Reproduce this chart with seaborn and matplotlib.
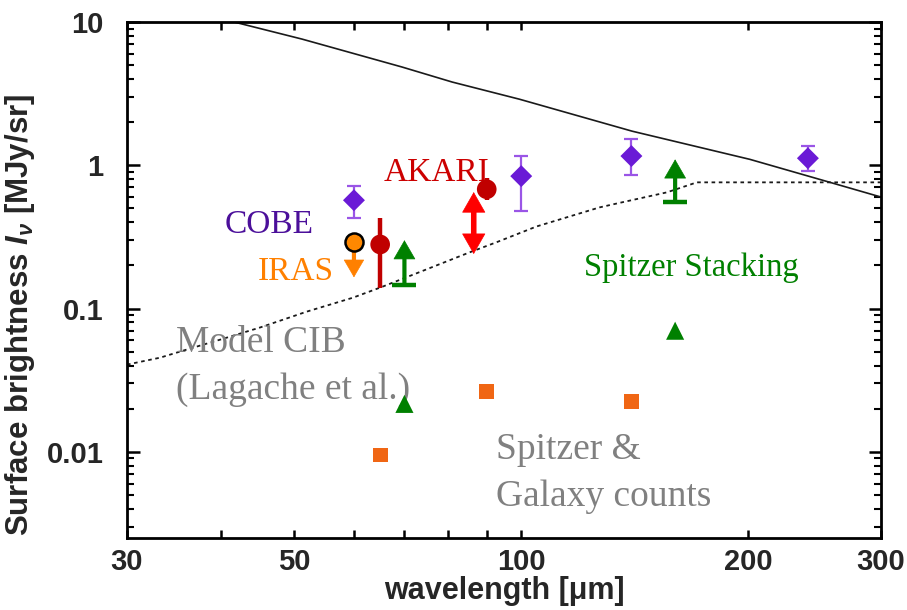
import numpy as np
import pandas as pd
import matplotlib
matplotlib.use("Agg")
import matplotlib.pyplot as plt
from matplotlib.ticker import FixedLocator, NullFormatter, LogLocator
import seaborn as sns

# ---- data -------------------------------------------------------------
# foreground (solid line)
fg_wave = [41.0, 51.2, 69.5, 81.0, 99.5, 140.3, 201.0, 259.0, 300.0]
fg_val = [10.2, 7.6, 4.85, 3.81, 2.89, 1.73, 1.10, 0.75, 0.60]

# model CIB, Lagache et al. (dotted line)
cib_wave = [30.0, 33.2, 36.0, 39.9, 45.0, 52.0, 59.8, 65.0, 73.2, 85.3,
            92.7, 104.8, 127.0, 136.0, 156.0, 171.0, 300.0]
cib_val = [0.0406, 0.0454, 0.0517, 0.0607, 0.0736, 0.0953, 0.119, 0.140,
           0.179, 0.246, 0.290, 0.374, 0.508, 0.551, 0.647, 0.760, 0.760]

# COBE
cobe_wave = [60.0, 100.0, 140.0, 240.0]
cobe_val = [0.57, 0.84, 1.16, 1.12]
cobe_lo = [0.43, 0.48, 0.86, 0.91]
cobe_hi = [0.72, 1.16, 1.52, 1.36]

# IRAS (upper limit)
iras_wave = [60.0]
iras_val = [0.29]
iras_tip = [0.165]

# AKARI
akari_wave = [65.0, 90.0]
akari_val = [0.28, 0.68]
akari_lo = [0.14, 0.57]
akari_hi = [0.43, 0.81]
akari_range_wave = [86.5]
akari_range_lo = [0.24]
akari_range_hi = [0.65]

# Spitzer stacking (lower limits)
stack_wave = [70.0, 160.0]
stack_base = [0.147, 0.55]
stack_tip = [0.30, 1.10]

# Spitzer galaxy counts
counts_wave = [70.0, 160.0]
counts_val = [0.0216, 0.070]

# galaxy counts (squares)
gc_wave = [65.0, 90.0, 140.0]
gc_val = [0.0095, 0.0263, 0.0224]

x_ticks = [30, 50, 100, 200, 300]
x_minor = [40, 60, 70, 80, 90]
y_ticks = [0.01, 0.1, 1, 10]
y_ticklabels = ["0.01", "0.1", "1", "10"]

# ---- style ------------------------------------------------------------
sns.set_theme(style="ticks")
plt.rcParams["font.family"] = ["Liberation Sans", "DejaVu Sans"]
plt.rcParams["mathtext.fontset"] = "custom"
plt.rcParams["mathtext.it"] = "Liberation Sans:italic:bold"
plt.rcParams["mathtext.rm"] = "Liberation Sans:bold"
plt.rcParams["mathtext.bf"] = "Liberation Sans:bold"

fig = plt.figure(figsize=(9.07, 6.10), dpi=100)
ax = fig.add_axes([0.140, 0.118, 0.8313, 0.8459])
ax.set_xscale("log")
ax.set_yscale("log")
ax.set_xlim(30, 300)
ax.set_ylim(0.0025, 10)


def arrow(x, start, end, color, shaft_lw, head_len, head_w, both=False):
    """Thick-shafted arrow from start to end (data y-values, fixed x).

    head_len and head_w (full width) are given in points.
    """
    style = "<|-|>" if both else "-|>"
    ax.annotate("", xy=(x, end), xytext=(x, start),
                arrowprops=dict(arrowstyle="-", color=color, lw=shaft_lw,
                                shrinkA=(head_len - 2) if both else 0,
                                shrinkB=head_len - 2, capstyle="butt"),
                zorder=4)
    ax.annotate("", xy=(x, end), xytext=(x, start),
                arrowprops=dict(arrowstyle=f"{style},head_length={head_len / 10},"
                                           f"head_width={head_w / 20}",
                                color=color, lw=0.5, mutation_scale=10,
                                shrinkA=0, shrinkB=0),
                zorder=4)


# lines
sns.lineplot(x=fg_wave, y=fg_val, ax=ax, color="#1a1a1a", lw=1.2,
             estimator=None, sort=False)
sns.lineplot(x=cib_wave, y=cib_val, ax=ax, color="#1a1a1a", lw=1.3,
             estimator=None, sort=False, linestyle=(0, (2, 2)))

# COBE
cobe_v = np.array(cobe_val)
ax.errorbar(cobe_wave, cobe_val,
            yerr=[cobe_v - np.array(cobe_lo), np.array(cobe_hi) - cobe_v],
            fmt="none", ecolor="#9a55e6", elinewidth=1.6, capsize=5,
            capthick=1.6, zorder=3)
sns.scatterplot(x=cobe_wave, y=cobe_val, ax=ax, marker="D", s=125,
                color="#6a1ad6", edgecolor="none", zorder=4)

# IRAS upper limit
for w, v, t in zip(iras_wave, iras_val, iras_tip):
    arrow(w, v, t, "#ff8000", 3.0, 12, 14)
ax.plot(iras_wave, iras_val, marker="o", ms=13, mfc="#ff8800",
        mec="black", mew=1.8, ls="none", zorder=5)

# AKARI
ak_v = np.array(akari_val)
ax.errorbar(akari_wave, akari_val,
            yerr=[ak_v - np.array(akari_lo), np.array(akari_hi) - ak_v],
            fmt="none", ecolor="#c00000", elinewidth=3.2, capsize=0, zorder=3)
sns.scatterplot(x=akari_wave, y=akari_val, ax=ax, marker="o", s=200,
                color="#c00000", edgecolor="none", zorder=4)
for w, lo, hi in zip(akari_range_wave, akari_range_lo, akari_range_hi):
    arrow(w, lo, hi, "#ff0000", 4.0, 14, 16, both=True)

# Spitzer stacking lower limits
for w, b, t in zip(stack_wave, stack_base, stack_tip):
    arrow(w, b, t, "#008000", 3.0, 13, 15)
ax.plot(stack_wave, stack_base, marker="_", ms=17, mew=3.2,
        color="#008000", ls="none", zorder=4)

# Spitzer counts and galaxy counts
sns.scatterplot(x=counts_wave, y=counts_val, ax=ax, marker="^", s=170,
                color="#008000", edgecolor="none", zorder=4)
sns.scatterplot(x=gc_wave, y=gc_val, ax=ax, marker="s", s=115,
                color="#f06614", edgecolor="none", zorder=4)

# labels
serif = ["Liberation Serif", "DejaVu Serif"]
ax.text(40.4, 0.387, "COBE", color="#4b0f9a", fontsize=24, family=serif,
        va="center")
ax.text(44.7, 0.1815, "IRAS", color="#ff8000", fontsize=24, family=serif,
        va="center")
ax.text(65.6, 0.89, "AKARI", color="#cc0000", fontsize=24, family=serif,
        va="center")
ax.text(121.3, 0.1935, "Spitzer Stacking", color="#008000", fontsize=23.5,
        family=serif, va="center")
ax.text(34.8, 0.0578, "Model CIB", color="#808080", fontsize=27,
        family=serif, va="center")
ax.text(34.8, 0.0271, "(Lagache et al.)", color="#808080", fontsize=27,
        family=serif, va="center")
ax.text(92.7, 0.0103, "Spitzer &", color="#808080", fontsize=27,
        family=serif, va="center")
ax.text(92.7, 0.00484, "Galaxy counts", color="#808080", fontsize=27,
        family=serif, va="center")

# axes frame and ticks
for s in ax.spines.values():
    s.set_linewidth(2.0)
    s.set_color("black")
ax.xaxis.set_major_locator(FixedLocator(x_ticks))
ax.xaxis.set_minor_locator(FixedLocator(x_minor))
ax.set_xticklabels([str(t) for t in x_ticks])
ax.xaxis.set_minor_formatter(NullFormatter())
ax.yaxis.set_major_locator(FixedLocator(y_ticks))
ax.set_yticklabels(y_ticklabels)
ax.yaxis.set_minor_locator(LogLocator(base=10, subs=np.arange(2, 10)))
ax.yaxis.set_minor_formatter(NullFormatter())
ax.tick_params(axis="both", which="both", direction="in", top=True,
               right=True, color="black")
ax.tick_params(axis="x", which="both", length=6, width=1.8, pad=7,
               labelsize=21)
ax.tick_params(axis="y", which="major", length=9, width=1.8, pad=17,
               labelsize=21)
ax.tick_params(axis="y", which="minor", length=5, width=1.5)
for lab in ax.get_xticklabels() + ax.get_yticklabels():
    lab.set_fontweight("bold")

ax.set_xlabel("wavelength [μm]", fontsize=22, fontweight="bold", labelpad=0)
ax.set_ylabel(r"Surface brightness $I_\nu$ [MJy/sr]", fontsize=22.5,
              fontweight="bold")
ax.yaxis.set_label_coords(-0.12, 0.432)

fig.savefig("out.png", dpi=100)
